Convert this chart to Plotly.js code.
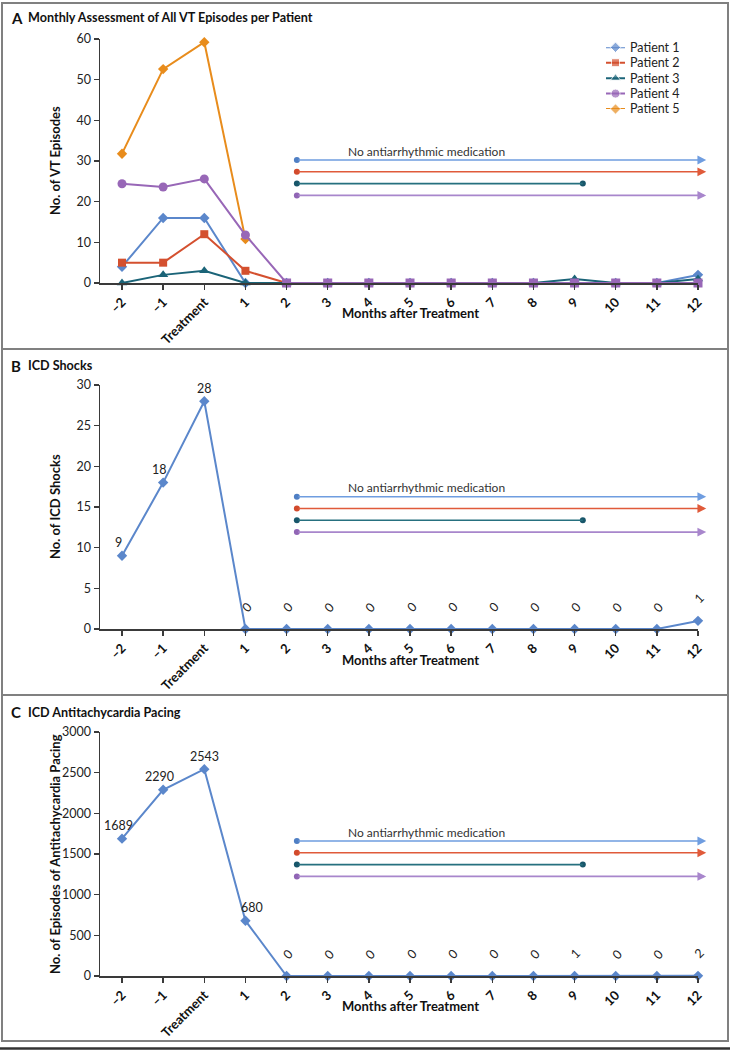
<!DOCTYPE html>
<html>
<head>
<meta charset="utf-8">
<script src="https://cdn.plot.ly/plotly-3.0.1.min.js"></script>
<style>
  html, body { margin: 0; padding: 0; background: #fff; }
  #chart { width: 730px; height: 1050px; }
</style>
</head>
<body>
<div id="chart"></div>
<script>
// months relative to the treatment month (0 = treatment)
const months = [-2, -1, 0, 1, 2, 3, 4, 5, 6, 7, 8, 9, 10, 11, 12];
const monthLabels = ['–2', '–1', 'Treatment', '1', '2', '3', '4', '5', '6', '7', '8', '9', '10', '11', '12'];

// Panel A - monthly VT episodes per patient
const patientNames = ['Patient 1', 'Patient 2', 'Patient 3', 'Patient 4', 'Patient 5'];
const vtPatient1 = [4, 16, 16, 0, 0, 0, 0, 0, 0, 0, 0, 0, 0, 0, 2];
const vtPatient2 = [5, 5, 12, 3, 0, 0, 0, 0, 0, 0, 0, 0, 0, 0, 0];
const vtPatient3 = [0, 2, 3, 0, 0, 0, 0, 0, 0, 0, 0, 1, 0, 0, 1];
const vtPatient4 = [24.4, 23.6, 25.6, 11.8, 0, 0, 0, 0, 0, 0, 0, 0, 0, 0, 0];
const vtPatient5 = [31.8, 52.6, 59.2, 10.8]; // followed up to month 1 only

// Panel B - ICD shocks (all patients)
const icdShocks = [9, 18, 28, 0, 0, 0, 0, 0, 0, 0, 0, 0, 0, 0, 1];
// Panel C - ICD antitachycardia pacing (all patients)
const atpEpisodes = [1689, 2290, 2543, 680, 0, 0, 0, 0, 0, 0, 0, 1, 0, 0, 2];

// time off antiarrhythmic medication (patients 1-4), in months
const medPatients = ['Patient 1', 'Patient 2', 'Patient 3', 'Patient 4'];
const medFrom = [2.25, 2.25, 2.25, 2.25];
const medTo = [12.2, 12.2, 9.2, 12.2];
const medOngoing = [true, true, false, true];
const medLabel = 'No antiarrhythmic medication';

const W = 730, H = 1050;
const FONT = 'Lato, "Open Sans", sans-serif';
const AXIS_COLOR = '#3a3a3a';
const patientColors = ['#5b87cb', '#d4502f', '#1b6478', '#9867b7', '#e88c1c'];
const patientSymbols = ['diamond', 'square', 'triangle-up', 'circle', 'diamond'];
const patientSizes = [8, 8, 9, 9, 8];
const medColors = ['#6f9de0', '#e05a3a', '#26707f', '#a886cc'];
const medDotColors = ['#4f7fc4', '#d24a2c', '#18566a', '#9165b5'];

const px = (x) => x / W;
const py = (y) => 1 - y / H;

// pixel geometry of each panel
const panels = [
  { letter: 'A', title: 'Monthly Assessment of All VT Episodes per Patient', yTitle: 'No. of VT Episodes',
    top: 39, bottom: 283, yMax: 60, dtick: 10, titleY: 18, xTitleY: 313, frame: [3, 349], medTop: 121 },
  { letter: 'B', title: 'ICD Shocks', yTitle: 'No. of ICD Shocks',
    top: 385, bottom: 629, yMax: 30, dtick: 5, titleY: 366, xTitleY: 660, frame: [349, 695], medTop: 111.7 },
  { letter: 'C', title: 'ICD Antitachycardia Pacing', yTitle: 'No. of Episodes of Antitachycardia Pacing',
    top: 732, bottom: 976, yMax: 3000, dtick: 500, titleY: 712, xTitleY: 1006, frame: [695, 1041], medTop: 109 }
];
const MED_GAP = 11.8; // px between medication rows

const traces = [];
const annotations = [];
const shapes = [];
const layout = {
  width: W, height: H,
  margin: { l: 0, r: 0, t: 0, b: 0 },
  paper_bgcolor: '#fff', plot_bgcolor: '#fff',
  font: { family: FONT, size: 12, color: '#222' },
  showlegend: false,
  hovermode: false
};

panels.forEach((p, i) => {
  const id = i === 0 ? '' : String(i + 1);
  const xr = 'x' + id, yr = 'y' + id;
  const pxPerUnit = (p.bottom - p.top) / p.yMax;

  layout['xaxis' + id] = {
    domain: [px(100), px(698)], range: [-2.535, 12], anchor: yr,
    showline: true, linecolor: AXIS_COLOR, linewidth: 1.5,
    ticks: 'outside', ticklen: 5, tickwidth: 1.5, tickcolor: AXIS_COLOR,
    tickvals: months, ticktext: monthLabels, tickangle: -45,
    tickfont: { family: FONT, size: 13, color: '#111', weight: 700 },
    showgrid: false, zeroline: false, fixedrange: true
  };
  layout['yaxis' + id] = {
    domain: [py(p.bottom), py(p.top)], range: [0, p.yMax], anchor: xr,
    showline: true, linecolor: AXIS_COLOR, linewidth: 1.5,
    ticks: 'outside', ticklen: 5, tickwidth: 1.5, tickcolor: AXIS_COLOR,
    dtick: p.dtick, tick0: 0,
    tickfont: { family: FONT, size: 12.5, color: '#222' },
    showgrid: false, zeroline: false, fixedrange: true
  };

  // panel frame
  shapes.push({ type: 'rect', xref: 'paper', yref: 'paper',
    x0: px(2), x1: px(728), y0: py(p.frame[1]), y1: py(p.frame[0]),
    line: { color: '#808080', width: 2 } });

  // panel heading
  annotations.push({ xref: 'paper', yref: 'paper', x: px(9), y: py(p.titleY), xanchor: 'left', yanchor: 'middle',
    text: '<b>' + p.letter + '</b>', showarrow: false, font: { family: FONT, size: 15, color: '#111' } });
  annotations.push({ xref: 'paper', yref: 'paper', x: px(26), y: py(p.titleY), xanchor: 'left', yanchor: 'middle',
    text: '<b>' + p.title + '</b>', showarrow: false, font: { family: FONT, size: 12.6, color: '#111' } });

  // axis titles
  annotations.push({ xref: 'paper', yref: 'paper', x: px(55), y: py((p.top + p.bottom) / 2),
    xanchor: 'center', yanchor: 'middle', textangle: -90,
    text: '<b>' + p.yTitle + '</b>', showarrow: false, font: { family: FONT, size: 13, color: '#111' } });
  annotations.push({ xref: 'paper', yref: 'paper', x: px(410), y: py(p.xTitleY),
    xanchor: 'center', yanchor: 'middle',
    text: '<b>Months after Treatment</b>', showarrow: false, font: { family: FONT, size: 13, color: '#111' } });

  // medication-free periods
  const rows = medPatients.map((_, k) => (p.bottom - (p.top + p.medTop + k * MED_GAP)) / pxPerUnit);
  medPatients.forEach((name, k) => {
    annotations.push({
      xref: xr, yref: yr, axref: xr, ayref: yr,
      x: medTo[k], y: rows[k], ax: medFrom[k], ay: rows[k], text: '',
      showarrow: true, arrowhead: medOngoing[k] ? 2 : 0, arrowsize: 1.1, arrowwidth: 1.6,
      arrowcolor: medColors[k], standoff: 0, startstandoff: 0
    });
  });
  traces.push({
    type: 'scatter', mode: 'markers', xaxis: xr, yaxis: yr, showlegend: false, cliponaxis: false,
    x: medFrom, y: rows,
    marker: { symbol: 'circle', size: 6, color: medDotColors }
  });
  const stopped = medPatients.map((_, k) => k).filter(k => !medOngoing[k]);
  traces.push({
    type: 'scatter', mode: 'markers', xaxis: xr, yaxis: yr, showlegend: false, cliponaxis: false,
    x: stopped.map(k => medTo[k]), y: stopped.map(k => rows[k]),
    marker: { symbol: 'circle', size: 6, color: stopped.map(k => medDotColors[k]) }
  });
  annotations.push({ xref: xr, yref: yr, x: 3.45, y: rows[0], xanchor: 'left', yanchor: 'middle', yshift: 9,
    text: medLabel, showarrow: false, font: { family: FONT, size: 12, color: '#333' } });
});

// Panel A series (Patient 5 drawn first so Patient 4 sits on top)
const vtSeries = [vtPatient1, vtPatient2, vtPatient3, vtPatient4, vtPatient5];
[4, 0, 1, 2, 3].forEach(k => {
  const vals = vtSeries[k];
  const xs = months.slice(0, vals.length);
  const sym = k === 3 ? xs.map(m => (m >= 2 ? 'square' : 'circle')) : patientSymbols[k];
  traces.push({
    type: 'scatter', mode: 'lines+markers', name: patientNames[k],
    xaxis: 'x', yaxis: 'y', cliponaxis: false,
    x: xs, y: vals,
    line: { color: patientColors[k], width: 2 },
    marker: { symbol: sym, size: patientSizes[k], color: patientColors[k] }
  });
});

// legend for panel A, drawn in its own small invisible subplot
layout.xaxis4 = { domain: [px(606), px(625)], range: [0, 1], anchor: 'y4', visible: false, fixedrange: true };
layout.yaxis4 = { domain: [py(109), py(47.3)], range: [patientNames.length - 1, 0], anchor: 'x4',
  visible: false, fixedrange: true };
patientNames.forEach((name, k) => {
  traces.push({
    type: 'scatter', mode: 'lines+markers', showlegend: false, xaxis: 'x4', yaxis: 'y4', cliponaxis: false,
    x: [0, 0.5, 1], y: [k, k, k],
    line: { color: patientColors[k], width: 2 },
    marker: { symbol: patientSymbols[k], size: [0, patientSizes[k], 0], color: patientColors[k] }
  });
  annotations.push({ xref: 'paper', yref: 'y4', x: px(628), y: k, xanchor: 'left', yanchor: 'middle',
    text: name, showarrow: false, font: { family: FONT, size: 12.5, color: '#222' } });
});

// Panels B and C
[[icdShocks, 'x2', 'y2'], [atpEpisodes, 'x3', 'y3']].forEach(([vals, xr, yr]) => {
  traces.push({
    type: 'scatter', mode: 'lines+markers', showlegend: false,
    xaxis: xr, yaxis: yr, cliponaxis: false,
    x: months, y: vals,
    line: { color: patientColors[0], width: 2 },
    marker: { symbol: 'diamond', size: 8, color: patientColors[0] }
  });
  vals.forEach((v, j) => {
    const small = v <= 2;
    let xshift = 0;
    if (!small) {
      if (j + 1 < vals.length && vals[j + 1] > v) xshift = -4;
      else if (j > 0 && vals[j - 1] > v) xshift = 7;
    }
    annotations.push({
      xref: xr, yref: yr, x: months[j], y: v, xanchor: 'center', yanchor: 'middle',
      yshift: small ? 22 : 13, xshift: small ? 1 : xshift, textangle: small ? -45 : 0,
      text: String(v), showarrow: false, font: { family: FONT, size: 12.5, color: '#222' }
    });
  });
});

// rule under the figure
shapes.push({ type: 'line', xref: 'paper', yref: 'paper', x0: 0, x1: 1, y0: py(1048.5), y1: py(1048.5),
  line: { color: '#333', width: 2.5 } });

layout.annotations = annotations;
layout.shapes = shapes;

Plotly.newPlot('chart', traces, layout, { staticPlot: true, displayModeBar: false });
</script>
</body>
</html>
